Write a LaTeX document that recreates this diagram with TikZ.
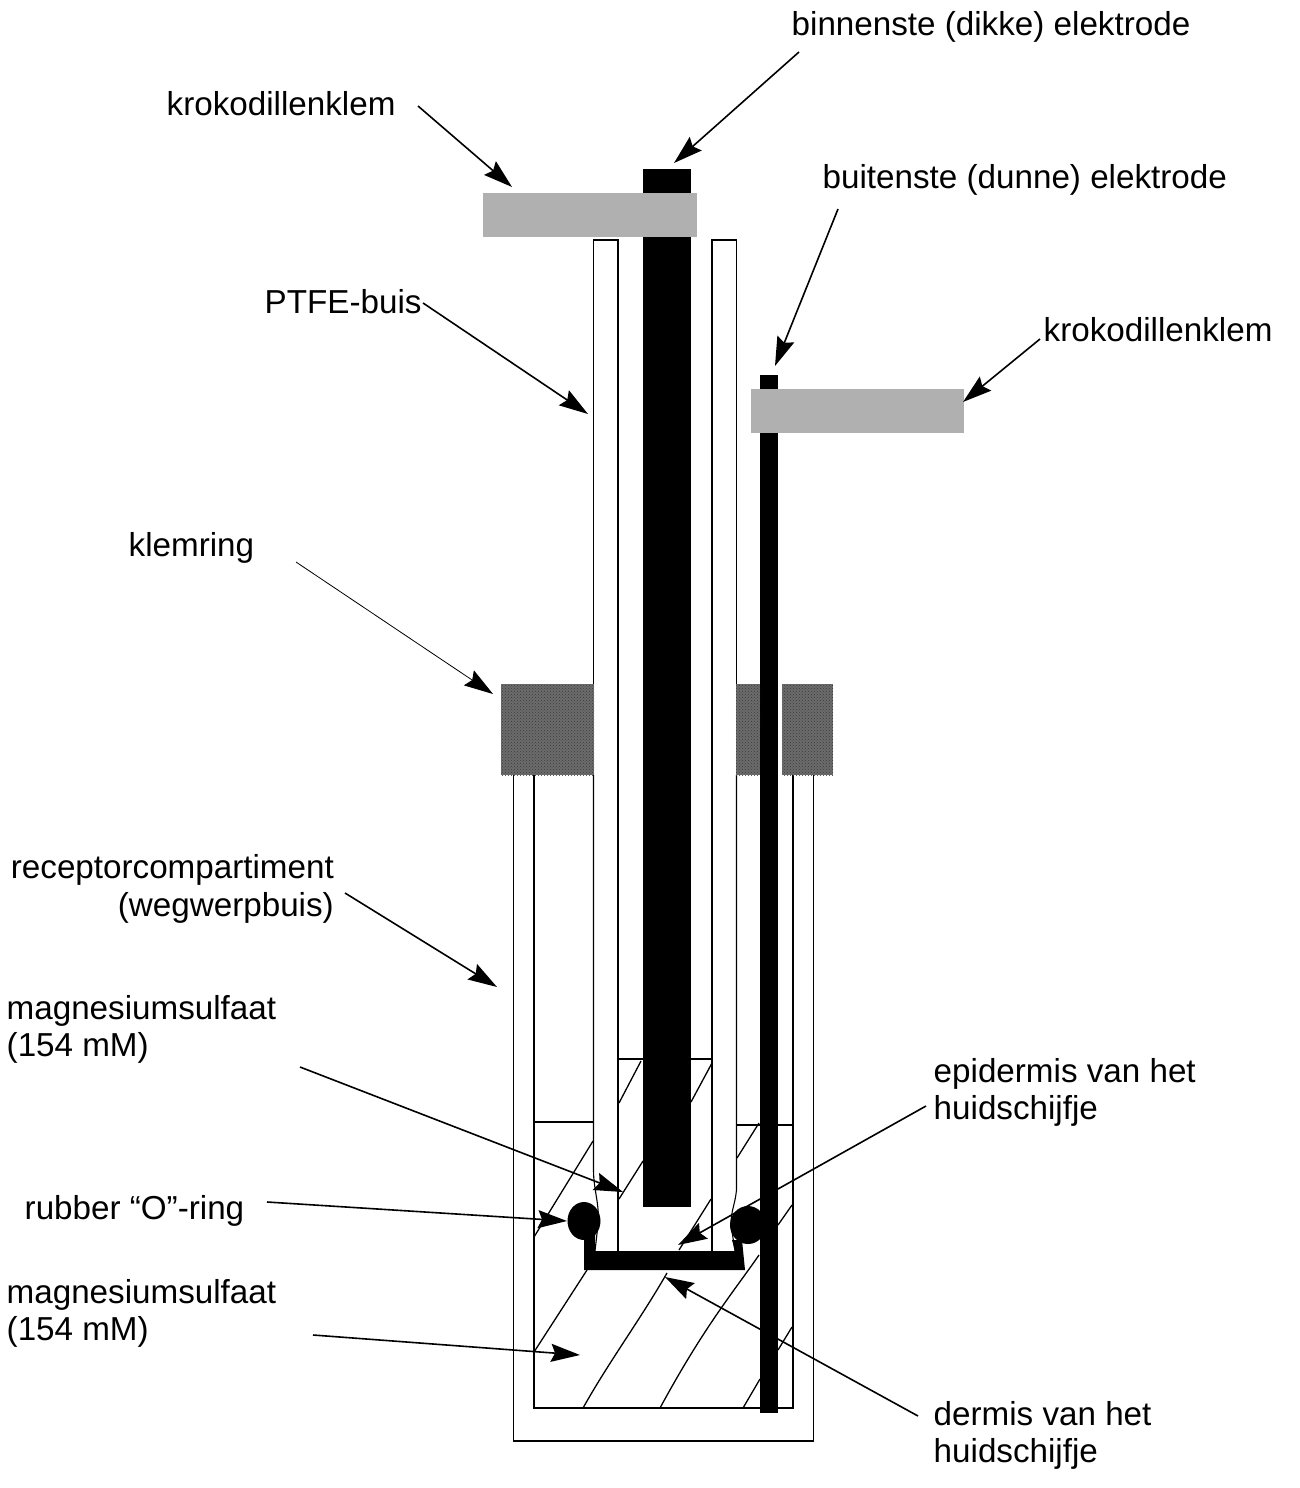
\documentclass[tikz,border=0pt]{standalone}
\usepackage{fontspec}
\setmainfont{Liberation Sans}
\usetikzlibrary{arrows.meta,patterns}
\definecolor{clampgray}{HTML}{B0B0B0}
\definecolor{ringgray}{HTML}{6C6C6C}
\definecolor{ringdot}{HTML}{3A3A3A}
\tikzset{
  lbl/.style={inner sep=0pt,anchor=base west,align=left,font=\fontsize{33.2}{37.5}\selectfont},
  wall/.style={draw=black,line width=1.1pt},
  hatchline/.style={draw=black,line width=1.3pt},
  pointer/.style={draw=black,line width=1.6pt,-{Stealth[length=29pt,width=18pt,inset=4pt]}},
  thinpointer/.style={draw=black,line width=0.8pt,-{Stealth[length=29pt,width=18pt,inset=4pt]}},
  clamp/.style={fill=clampgray,draw=none},
  ring/.style={fill=ringgray,draw=none},
  ringtex/.style={pattern=crosshatch dots,pattern color=ringdot,draw=none},
  solid black/.style={fill=black,draw=none}
}
\begin{document}
\begin{tikzpicture}[x=1pt,y=-1pt]
\useasboundingbox (0,0) rectangle (1299,1488);
% liquid hatching
\draw[hatchline] (641,1061)--(619,1103);
\draw[hatchline] (712,1063)--(691,1102);
\draw[hatchline] (643,1161)--(619,1199);
\draw[hatchline] (711,1199)--(679,1250);
\draw[hatchline] (759,1123)--(737,1158);
\draw[hatchline] (593,1141)--(534,1237);
\draw[hatchline] (792,1205)--(778,1225);
\draw[hatchline] (759,1255) .. controls (735,1290) and (705,1325) .. (660,1408);
\draw[hatchline] (587,1270)--(534,1352);
\draw[hatchline] (667,1273) .. controls (640,1320) and (610,1360) .. (583,1408);
\draw[hatchline] (792,1327)--(778,1350);
\draw[hatchline] (760,1379)--(743,1408);
% liquid levels
\draw[wall] (617,1059)--(713,1059);
\draw[wall] (534,1122)--(593.5,1122);
\draw[wall] (736.5,1125)--(793,1125);
% receptor tube
\draw[wall] (513.5,775)--(513.5,1441)--(813.5,1441)--(813.5,775);
\draw[wall] (534,775)--(534,1408)--(793,1408)--(793,775);
% PTFE tube
\draw[wall] (593.5,684)--(593.5,240)--(618,240)--(618,1251);
\draw[wall] (593.5,775)--(593.5,1170) .. controls (593.5,1190) and (600,1205) .. (598,1225) -- (595,1251);
\draw[wall] (736.5,684)--(736.5,240)--(712,240)--(712,1251);
\draw[wall] (736.5,775)--(736.5,1190) .. controls (735,1205) and (731,1210) .. (731,1225) -- (735,1251);
% skin sample and O-rings
\fill[solid black] (584,1270)--(745,1270)--(742,1240)--(732,1240)--(735,1251)--(595,1251)--(595,1235)--(584,1235)--cycle;
\fill[solid black] (584,1221) ellipse [x radius=16.5,y radius=19];
\fill[solid black] (748,1225) ellipse [x radius=18,y radius=19];
% electrodes
\fill[solid black] (643,169) rectangle (691,1207);
\fill[solid black] (760,375) rectangle (778,1413);
% clamps
\fill[clamp] (483,193) rectangle (697,237);
\fill[clamp] (751,389) rectangle (964,433);
% clamping ring
\fill[ring] (501,684) rectangle (594,775);
\fill[ring] (735.5,684) rectangle (760,775);
\fill[ring] (782,684) rectangle (833,775);
\fill[ringtex] (501,684) rectangle (594,775);
\fill[ringtex] (735.5,684) rectangle (760,775);
\fill[ringtex] (782,684) rectangle (833,775);
% labels
\node[lbl] (kk1) at (166.5,115) {krokodillenklem};
\node[lbl] (bin) at (791.5,36) {binnenste (dikke) elektrode};
\node[lbl] (bui) at (822.5,188) {buitenste (dunne) elektrode};
\node[lbl] (kk2) at (1043.5,341) {krokodillenklem};
\node[lbl] (ptfe) at (264.5,313) {PTFE-buis};
\node[lbl] (kr) at (128.5,556) {klemring};
\node[lbl,anchor=base east] (rc1) at (334,878) {receptorcompartiment};
\node[lbl,anchor=base east] (rc2) at (334,916) {(wegwerpbuis)};
\node[lbl] (mg1) at (6.5,1019) {magnesiumsulfaat};
\node[lbl] (mg1b) at (6.5,1056) {(154 mM)};
\node[lbl] (rub) at (24.5,1219) {rubber “O”-ring};
\node[lbl] (mg2) at (6.5,1303) {magnesiumsulfaat};
\node[lbl] (mg2b) at (6.5,1340) {(154 mM)};
\node[lbl] (epi) at (933.5,1082) {epidermis van het};
\node[lbl] (epib) at (933.5,1119) {huidschijfje};
\node[lbl] (der) at (933.5,1425) {dermis van het};
\node[lbl] (derb) at (933.5,1462) {huidschijfje};
% connector ends
\coordinate (a1s) at (418,106);  \coordinate (a1e) at (512,187);
\coordinate (a2s) at (799,52);   \coordinate (a2e) at (674,163);
\coordinate (a3s) at (838,209);  \coordinate (a3e) at (775,366);
\coordinate (a4s) at (1040,339); \coordinate (a4e) at (963,402);
\coordinate (a5s) at (423,303);  \coordinate (a5e) at (588,414);
\coordinate (a6s) at (296,562);  \coordinate (a6e) at (493,694);
\coordinate (a7s) at (345,893);  \coordinate (a7e) at (497,987);
\coordinate (a8s) at (300,1067); \coordinate (a8e) at (623,1192);
\coordinate (a9s) at (267,1202); \coordinate (a9e) at (567,1221);
\coordinate (a10s) at (926,1106);\coordinate (a10e) at (678,1245);
\coordinate (a11s) at (313,1335);\coordinate (a11e) at (580,1355);
\coordinate (a12s) at (918,1416);\coordinate (a12e) at (665,1277);
\draw[pointer] (a1s)--(a1e);
\draw[pointer] (a2s)--(a2e);
\draw[pointer] (a3s)--(a3e);
\draw[pointer] (a4s)--(a4e);
\draw[pointer] (a5s)--(a5e);
\draw[thinpointer] (a6s)--(a6e);
\draw[pointer] (a7s)--(a7e);
\draw[pointer] (a8s)--(a8e);
\draw[pointer] (a9s)--(a9e);
\draw[pointer] (a10s)--(a10e);
\draw[pointer] (a11s)--(a11e);
\draw[pointer] (a12s)--(a12e);
% electrode covers the pointer lines that pass behind it
\fill[solid black] (760,1100) rectangle (778,1413);
\end{tikzpicture}
\end{document}
